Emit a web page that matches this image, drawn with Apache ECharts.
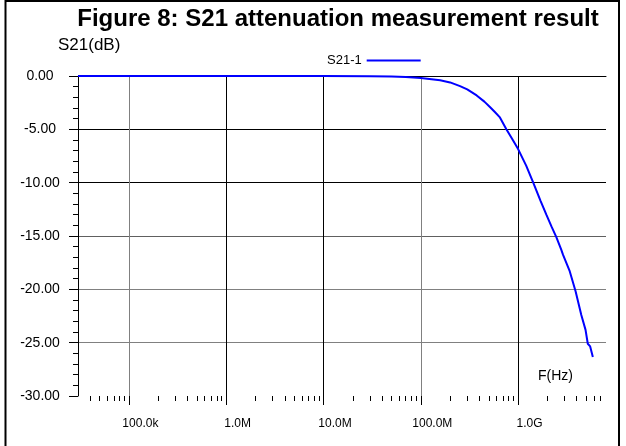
<!DOCTYPE html>
<html>
<head>
<meta charset="utf-8">
<script src="https://cdn.jsdelivr.net/npm/echarts@6/dist/echarts.min.js"></script>
<style>
html,body{margin:0;padding:0;background:#fff;}
#c{width:626px;height:446px;}
</style>
</head>
<body>
<div id="c"></div>
<script>
// ---- data ----
const freqHz = [3e4, 1e5, 1e6, 1e7, 3e7, 5e7, 7e7, 1e8, 1.58e8, 2e8, 2.53e8, 3e8, 3.75e8, 4.5e8, 5.13e8, 5.8e8, 6.46e8, 7.57e8, 8.7e8, 1e9, 1.21e9, 1.43e9, 1.7e9, 1.95e9, 2.2e9, 2.47e9, 2.78e9, 2.89e9, 3.39e9, 3.9e9, 4.46e9, 4.93e9, 5.2e9, 5.5e9, 5.64e9, 5.86e9];
const s21dB  = [0, 0, 0, 0, -0.02, -0.05, -0.1, -0.18, -0.4, -0.6, -0.95, -1.25, -1.82, -2.4, -2.9, -3.4, -3.85, -5.0, -5.9, -6.85, -8.4, -10.0, -11.7, -13.0, -14.1, -15.1, -16.3, -16.75, -18.3, -20.2, -22.4, -23.8, -25.1, -25.35, -25.5, -26.35];
const xMajorTicks = [1e5, 1e6, 1e7, 1e8, 1e9];
const xTickLabels = ['100.0k', '1.0M', '10.0M', '100.0M', '1.0G'];
const xMinorTicks = [4e4,5e4,6e4,7e4,8e4,9e4, 2e5,3e5,4e5,5e5,6e5,7e5,8e5,9e5, 2e6,3e6,4e6,5e6,6e6,7e6,8e6,9e6, 2e7,3e7,4e7,5e7,6e7,7e7,8e7,9e7, 2e8,3e8,4e8,5e8,6e8,7e8,8e8,9e8, 2e9,3e9,4e9,5e9,6e9,7e9];
const xMin = 3e4, xMax = 8e9;
const yMin = -30, yMax = 0, yStep = 5;
const seriesName = 'S21-1';
const titleText = 'Figure 8: S21 attenuation measurement result';
const yName = 'S21(dB)';
const xName = 'F(Hz)';

const chart = echarts.init(document.getElementById('c'), null, {renderer: 'canvas'});
const FONT = 'Liberation Sans, Arial, Helvetica, sans-serif';
const pts = freqHz.map((f, i) => [f, s21dB[i]]);
function xLabel(v) {
  const lv = Math.log10(v);
  const idx = xMajorTicks.findIndex(t => Math.abs(Math.log10(t) - lv) < 1e-6);
  return idx >= 0 ? xTickLabels[idx] : '';
}
const commonX = {type: 'log', logBase: 10, min: xMin, max: xMax, position: 'bottom', gridIndex: 0, offset: 0};
chart.setOption({
  animation: false,
  backgroundColor: '#fff',
  title: [{
    text: titleText, left: 338, top: 7, textAlign: 'center', padding: 0,
    textStyle: {fontFamily: FONT, fontSize: 24, fontWeight: 'bold', color: '#000'}
  }, {
    text: yName, left: 58, top: 37, padding: 0,
    textStyle: {fontFamily: FONT, fontSize: 17, fontWeight: 'normal', color: '#000'}
  }, {
    text: xName, left: 538, top: 369, padding: 0,
    textStyle: {fontFamily: FONT, fontSize: 14, fontWeight: 'normal', color: '#000'}
  }],
  legend: {
    data: [seriesName], left: 322, top: 49, align: 'right',
    icon: 'rect', itemWidth: 54, itemHeight: 2, itemGap: 6,
    textStyle: {fontFamily: FONT, fontSize: 13, color: '#000'}
  },
  grid: {left: 78, right: 20, top: 76, bottom: 50, containLabel: false},
  xAxis: [
    Object.assign({}, commonX, {
      axisLine: {show: true, lineStyle: {color: '#000', width: 1}},
      axisTick: {show: false},
      axisLabel: {show: true, formatter: xLabel, showMinLabel: false, showMaxLabel: false, margin: 22,
        fontFamily: FONT, fontSize: 12, color: '#000', align: 'center', padding: [0, 0, 0, 23]},
      splitLine: {show: true, showMinLine: false, showMaxLine: false,
        lineStyle: {color: ['#808080', '#000', '#000', '#808080', '#000'], width: 1}}
    }),
    Object.assign({}, commonX, {
      axisLine: {show: false}, axisLabel: {show: false}, splitLine: {show: false},
      axisTick: {show: true, customValues: xMajorTicks, length: 9, lineStyle: {color: '#000', width: 1}}
    }),
    Object.assign({}, commonX, {
      axisLine: {show: false}, axisLabel: {show: false}, splitLine: {show: false},
      axisTick: {show: true, customValues: xMinorTicks, length: 5, lineStyle: {color: '#000', width: 1}}
    })
  ],
  yAxis: {
    type: 'value', min: yMin, max: yMax, interval: yStep,
    axisLine: {show: true, lineStyle: {color: '#000', width: 1}},
    axisTick: {show: true, length: 9, lineStyle: {color: '#000'}},
    minorTick: {show: true, splitNumber: 5, length: 5, lineStyle: {color: '#000'}},
    axisLabel: {formatter: v => v.toFixed(2), align: 'center', margin: 38,
      fontFamily: FONT, fontSize: 14, color: '#000'},
    splitLine: {show: true, showMinLine: false,
      lineStyle: {color: ['#808080', '#808080', '#606060', '#000', '#000', '#808080'], width: 1}}
  },
  series: [{
    name: seriesName, type: 'line', xAxisIndex: 0, data: pts,
    showSymbol: false, symbol: 'none', smooth: false,
    lineStyle: {color: '#0000ff', width: 2}, itemStyle: {color: '#0000ff'}
  }],
  graphic: [{
    type: 'rect', silent: true, z: 100,
    shape: {x: 5.5, y: 1, width: 613.5, height: 460},
    style: {fill: 'none', stroke: '#000', lineWidth: 2}
  }]
});
</script>
</body>
</html>
